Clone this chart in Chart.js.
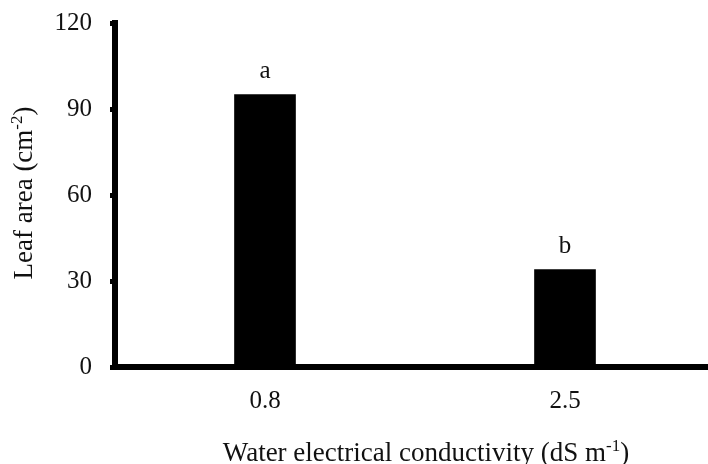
<!DOCTYPE html>
<html>
<head>
<meta charset="utf-8">
<script src="https://cdn.jsdelivr.net/npm/chart.js@4.4.1/dist/chart.umd.min.js"></script>
<style>
  html, body { margin: 0; padding: 0; overflow: hidden; background: #fff; }
  #wrap { width: 715px; height: 464px; }
</style>
</head>
<body>
<div id="wrap"><canvas id="myChart" width="715" height="464"></canvas></div>
<script>
// data
const categories = ['0.8', '2.5'];
const leafArea = [95, 34];
const letters = ['a', 'b'];
const yTicks = [0, 30, 60, 90, 120];

const FONT = '"Liberation Serif", "Times New Roman", serif';
const FS = 25;       // ticks and letters
const TITLE_FS = 27; // axis titles

// draw text with a superscript piece, centered on x
function drawSupText(ctx, parts, x, y, size) {
  const supSize = Math.round(size * 0.62);
  let total = 0;
  parts.forEach(p => {
    ctx.font = (p.sup ? supSize : size) + 'px ' + FONT;
    total += ctx.measureText(p.t).width;
  });
  let cx = x - total / 2;
  parts.forEach(p => {
    ctx.font = (p.sup ? supSize : size) + 'px ' + FONT;
    ctx.fillText(p.t, cx, p.sup ? y - size * 0.36 : y);
    cx += ctx.measureText(p.t).width;
  });
}

// letters above bars + axis titles
const annotate = {
  id: 'annotate',
  afterDatasetsDraw(chart) {
    const ctx = chart.ctx;
    ctx.save();
    ctx.fillStyle = '#111';
    ctx.textBaseline = 'alphabetic';

    // significance letters
    const meta = chart.getDatasetMeta(0);
    ctx.font = FS + 'px ' + FONT;
    ctx.textAlign = 'center';
    meta.data.forEach((bar, i) => {
      ctx.fillText(letters[i], bar.x, bar.y - 17);
    });
    ctx.textAlign = 'left';

    // x title
    drawSupText(ctx, [
      { t: 'Water electrical conductivity (dS m' },
      { t: '-1', sup: true },
      { t: ')' }
    ], 426, 461, TITLE_FS);

    // y title
    ctx.translate(32, 193);
    ctx.rotate(-Math.PI / 2);
    drawSupText(ctx, [
      { t: 'Leaf area (cm' },
      { t: '-2', sup: true },
      { t: ')' }
    ], 0, 0, TITLE_FS);
    ctx.restore();
  }
};

const ctx = document.getElementById('myChart').getContext('2d');
new Chart(ctx, {
  type: 'bar',
  data: {
    labels: categories,
    datasets: [{
      data: leafArea,
      backgroundColor: '#000',
      borderWidth: 0,
      barThickness: 61
    }]
  },
  options: {
    responsive: false,
    animation: false,
    layout: { padding: { top: 23, right: 0, bottom: 0, left: 0 } },
    plugins: {
      legend: { display: false },
      tooltip: { enabled: false }
    },
    scales: {
      x: {
        type: 'category',
        grid: { display: true, drawOnChartArea: false, drawTicks: false },
        border: { display: true, color: '#000', width: 6 },
        ticks: {
          color: '#111',
          padding: 19,
          font: { family: FONT, size: FS }
        },
        afterFit(scale) { scale.height = 97; }
      },
      y: {
        type: 'linear',
        min: yTicks[0],
        max: yTicks[yTicks.length - 1],
        afterBuildTicks(scale) { scale.ticks = yTicks.map(v => ({ value: v })); },
        grid: {
          display: true,
          drawOnChartArea: false,
          drawTicks: true,
          tickLength: 5,
          tickWidth: 5,
          tickColor: '#000'
        },
        border: { display: true, color: '#000', width: 6 },
        ticks: {
          color: '#111',
          padding: 18,
          font: { family: FONT, size: FS }
        },
        afterFit(scale) {
          scale.width = 115;
          scale.paddingTop = 0;
          scale.paddingBottom = 0;
        }
      }
    }
  },
  plugins: [annotate]
});
</script>
</body>
</html>
